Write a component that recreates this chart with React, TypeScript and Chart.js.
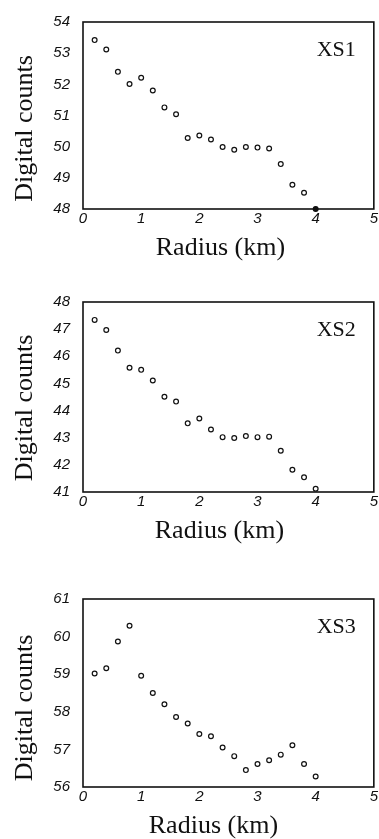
import React, { useEffect, useRef } from "react";
import { Chart, registerables } from "chart.js";

Chart.register(...registerables);

// ---------- data ----------
const radiusKm = [0.2, 0.4, 0.6, 0.8, 1.0, 1.2, 1.4, 1.6, 1.8, 2.0, 2.2, 2.4, 2.6, 2.8, 3.0, 3.2, 3.4, 3.6, 3.8, 4.0];

const xs1Counts = [53.42, 53.12, 52.4, 52.01, 52.21, 51.8, 51.26, 51.04, 50.28, 50.36, 50.23, 49.99, 49.9, 49.99, 49.97, 49.94, 49.44, 48.78, 48.52, 48.0];
const xs2Counts = [47.34, 46.97, 46.21, 45.58, 45.5, 45.11, 44.51, 44.33, 43.53, 43.71, 43.3, 43.02, 42.99, 43.06, 43.02, 43.04, 42.52, 41.82, 41.54, 41.12];
const xs3Counts = [59.02, 59.16, 59.87, 60.29, 58.96, 58.5, 58.2, 57.86, 57.69, 57.41, 57.35, 57.05, 56.82, 56.45, 56.61, 56.71, 56.86, 57.11, 56.61, 56.28];

const xTickValues = [0, 1, 2, 3, 4, 5];
const xs1YTicks = [48, 49, 50, 51, 52, 53, 54];
const xs2YTicks = [41, 42, 43, 44, 45, 46, 47, 48];
const xs3YTicks = [56, 57, 58, 59, 60, 61];

const panelNames = ["XS1", "XS2", "XS3"];
const xAxisTitle = "Radius (km)";
const yAxisTitle = "Digital counts";

// ---------- styles ----------
const INK = "#111111";
const SERIF = "'Liberation Serif', 'Times New Roman', serif";
const SANS = "'Liberation Sans', Arial, sans-serif";

type PanelProps = {
  name: string;
  values: number[];
  yTicks: number[];
  filledIndex: number;
  top: number;
  height: number;
  bottomPad: number;
  yTitleShift: number;
  xTitleShift: number;
};

const textPlugin = (name: string, yTitleShift: number, xTitleShift: number) => ({
  id: "panelDecor",
  beforeDatasetsDraw(chart: any) {
    const { ctx, chartArea } = chart;
    ctx.save();
    ctx.strokeStyle = INK;
    ctx.lineWidth = 1.6;
    ctx.strokeRect(chartArea.left, chartArea.top, chartArea.right - chartArea.left, chartArea.bottom - chartArea.top);
    ctx.restore();
  },
  afterDraw(chart: any) {
    const { ctx, chartArea } = chart;
    const midX = (chartArea.left + chartArea.right) / 2;
    const midY = (chartArea.top + chartArea.bottom) / 2;
    ctx.save();
    ctx.fillStyle = INK;
    // panel label
    ctx.font = `22px ${SERIF}`;
    ctx.textAlign = "right";
    ctx.textBaseline = "middle";
    ctx.fillText(name, chartArea.right - 18, chartArea.top + 28);
    // x title
    ctx.font = `26px ${SERIF}`;
    ctx.textAlign = "center";
    ctx.fillText(xAxisTitle, midX + xTitleShift, chartArea.bottom + 39);
    // y title
    ctx.translate(chartArea.left - 58, midY + yTitleShift);
    ctx.rotate(-Math.PI / 2);
    ctx.fillText(yAxisTitle, 0, 0);
    ctx.restore();
  },
});

function Panel(props: PanelProps) {
  const ref = useRef<HTMLCanvasElement | null>(null);
  useEffect(() => {
    if (!ref.current) return;
    const { values, yTicks, filledIndex, name } = props;
    const chart = new Chart(ref.current, {
      type: "scatter",
      data: {
        datasets: [
          {
            label: name,
            data: radiusKm.map((r, i) => ({ x: r, y: values[i] })),
            pointRadius: 2.4,
            pointHoverRadius: 2.4,
            pointBorderWidth: 1.2,
            pointBorderColor: INK,
            pointBackgroundColor: (c: any) => (c.dataIndex === filledIndex ? INK : "#ffffff"),
            clip: false as any,
          },
        ],
      },
      options: {
        animation: false,
        responsive: false,
        devicePixelRatio: 1,
        layout: { padding: { top: 16, right: 2, bottom: props.bottomPad, left: 0 } },
        plugins: { legend: { display: false }, tooltip: { enabled: false }, title: { display: false } },
        events: [],
        scales: {
          x: {
            type: "linear",
            min: xTickValues[0],
            max: xTickValues[xTickValues.length - 1],
            afterBuildTicks: (s: any) => {
              s.ticks = xTickValues.map((v) => ({ value: v }));
            },
            afterFit: (s: any) => {
              s.height = 26;
            },
            grid: { display: false, drawTicks: false },
            border: { display: false },
            ticks: {
              color: INK,
              padding: 1,
              maxRotation: 0,
              font: { family: SANS, size: 15, style: "italic" },
            },
            title: { display: false },
          },
          y: {
            type: "linear",
            min: yTicks[0],
            max: yTicks[yTicks.length - 1],
            afterBuildTicks: (s: any) => {
              s.ticks = yTicks.map((v) => ({ value: v }));
            },
            afterFit: (s: any) => {
              s.width = 83;
            },
            grid: { display: false, drawTicks: false },
            border: { display: false },
            ticks: {
              color: INK,
              padding: 13,
              font: { family: SANS, size: 15, style: "italic" },
            },
            title: { display: false },
          },
        },
      },
      plugins: [textPlugin(name, props.yTitleShift, props.xTitleShift)],
    } as any);
    return () => chart.destroy();
  }, []);
  return (
    <div style={{ position: "absolute", left: 0, top: props.top, width: 379, height: props.height }}>
      <canvas ref={ref} width={379} height={props.height} style={{ display: "block", width: 379, height: props.height }} />
    </div>
  );
}

export default function App() {
  return (
    <div style={{ position: "absolute", left: 0, top: 0, width: 379, height: 839, background: "#ffffff", overflow: "hidden" }}>
      <Panel name={panelNames[0]} values={xs1Counts} yTicks={xs1YTicks} filledIndex={19} top={0} height={265} bottomPad={30} yTitleShift={13} xTitleShift={-8} />
      <Panel name={panelNames[1]} values={xs2Counts} yTicks={xs2YTicks} filledIndex={-1} top={280} height={268} bottomPad={30} yTitleShift={11} xTitleShift={-9} />
      <Panel name={panelNames[2]} values={xs3Counts} yTicks={xs3YTicks} filledIndex={-1} top={577} height={262} bottomPad={26} yTitleShift={15} xTitleShift={-15} />
    </div>
  );
}
